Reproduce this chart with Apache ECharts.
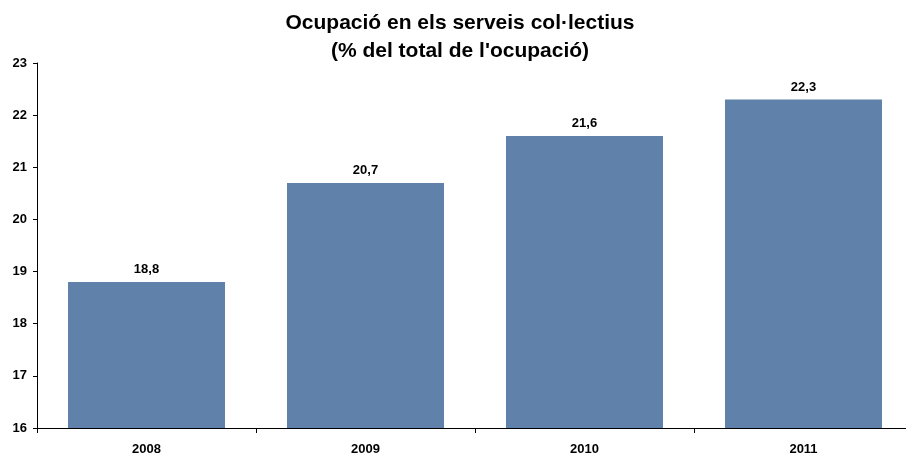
<!DOCTYPE html>
<html><head><meta charset="utf-8">
<script src="https://cdn.jsdelivr.net/npm/echarts@6/dist/echarts.min.js"></script>
<style>html,body{margin:0;padding:0;background:#fff;overflow:hidden}#c{width:926px;height:458px}</style>
</head><body><div id="c"></div>
<script>
var categories = ['2008', '2009', '2010', '2011'];
var values = [18.8, 20.7, 21.6, 22.3];
var yTicks = [16, 17, 18, 19, 20, 21, 22, 23];

var chart = echarts.init(document.getElementById('c'));
var font = '"Liberation Sans", Arial, sans-serif';
chart.setOption({
  animation: false,
  title: {
    text: 'Ocupació en els serveis col·lectius\n(% del total de l\'ocupació)',
    left: 455, textAlign: 'center', top: 4,
    textStyle: {fontFamily: font, fontWeight: 'bold', fontSize: 21, lineHeight: 28, color: '#000'}
  },
  grid: {left: 37, top: 63, width: 876, height: 365, containLabel: false},
  xAxis: {
    type: 'category', data: categories,
    axisLine: {lineStyle: {color: '#000', width: 1}},
    axisTick: {show: true, alignWithLabel: false, length: 5, inside: false, lineStyle: {color: '#000'}},
    axisLabel: {fontFamily: font, fontWeight: 'bold', fontSize: 13, color: '#000', margin: 15}
  },
  yAxis: {
    type: 'value', min: yTicks[0], max: yTicks[yTicks.length - 1], interval: 1,
    axisLine: {show: true, lineStyle: {color: '#000', width: 1}},
    axisTick: {show: true, length: 4, lineStyle: {color: '#000'}},
    splitLine: {show: false},
    axisLabel: {fontFamily: font, fontWeight: 'bold', fontSize: 13, color: '#000', margin: 10}
  },
  series: [{
    type: 'bar', data: values, barWidth: '71.7%',
    itemStyle: {color: '#5f81aa'},
    label: {
      show: true, position: 'top', distance: 6,
      fontFamily: font, fontWeight: 'bold', fontSize: 13, color: '#000',
      formatter: function (p) { return String(p.value).replace('.', ','); }
    }
  }]
});
</script></body></html>
